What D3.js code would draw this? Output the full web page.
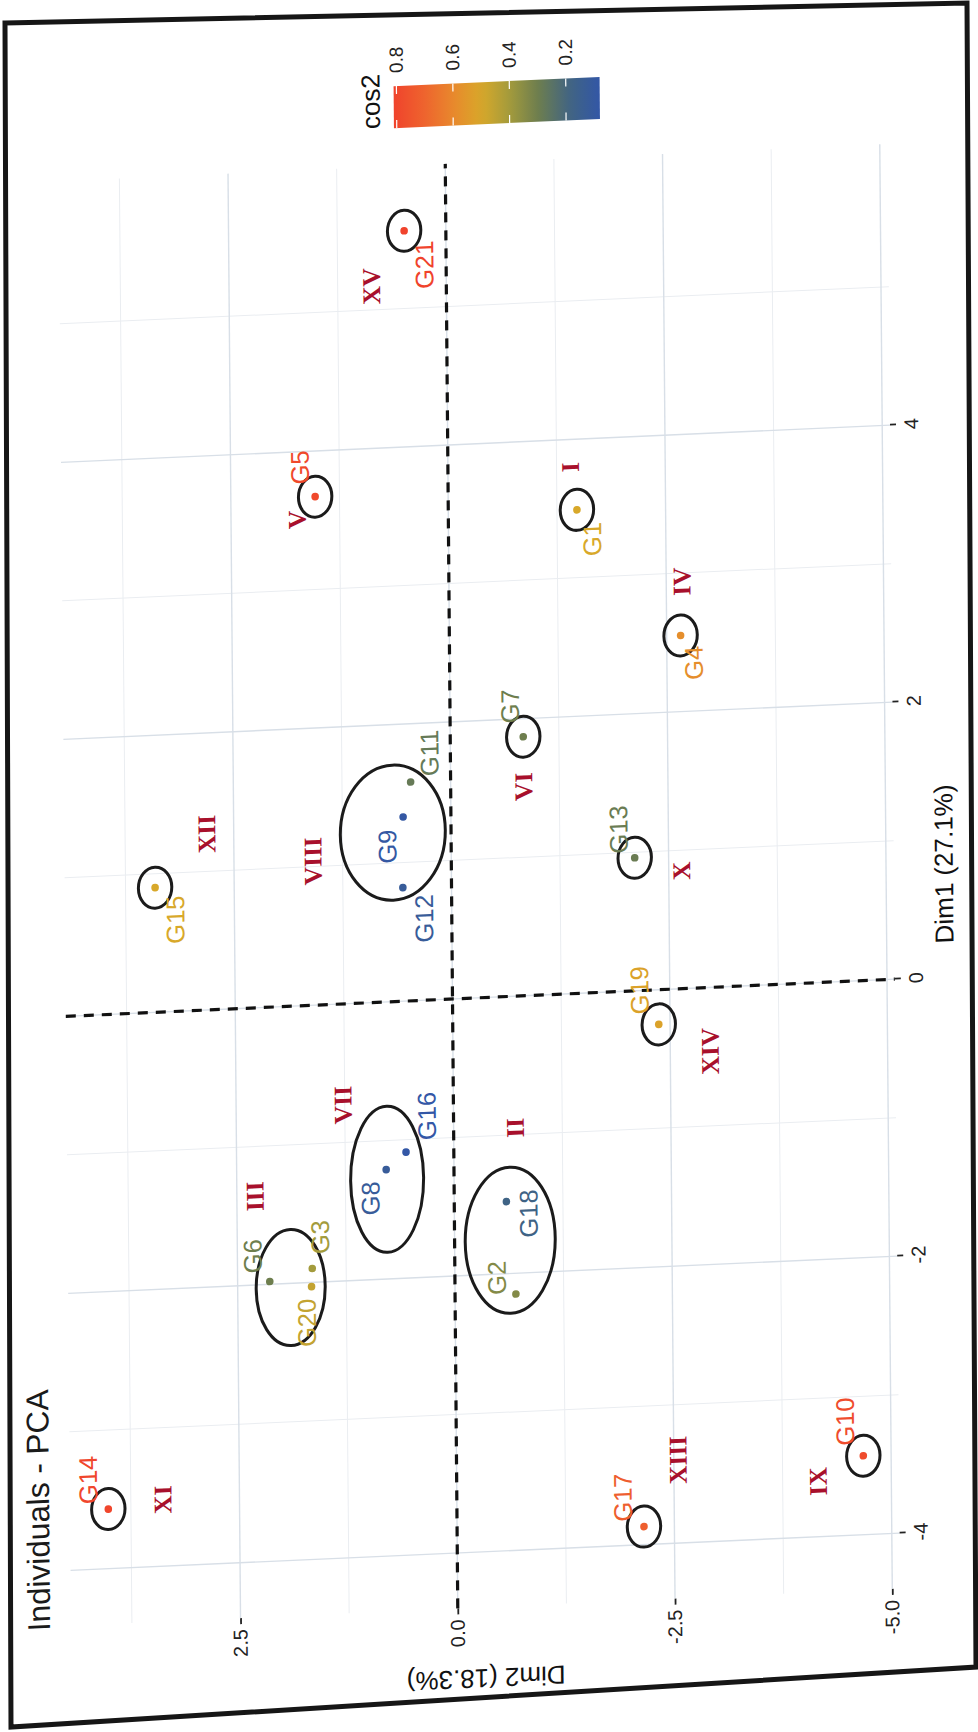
<!DOCTYPE html>
<html>
<head>
<meta charset="utf-8">
<script src="https://cdn.jsdelivr.net/npm/d3@7"></script>
<style>
  html, body { margin: 0; padding: 0; background: #ffffff; }
  svg { display: block; }
  text { font-family: "Liberation Sans", Arial, sans-serif; }
  text.roman { font-family: "Liberation Serif", "Times New Roman", serif; font-weight: bold; }
</style>
</head>
<body>
<svg id="chart" width="978" height="1732"></svg>
<script>
// ---- individuals: PCA coordinates and quality of representation ----
const individuals = ["G1","G2","G3","G4","G5","G6","G7","G8","G9","G10","G11",
                     "G12","G13","G14","G15","G16","G17","G18","G19","G20","G21"];
const dim1 = [3.49, -2.15, -1.90, 2.55, 3.67, -1.98, 1.87, -1.21, 1.33, -3.43, 1.58,
              0.82, 0.96, -3.57, 0.90, -1.09, -3.87, -1.48, -0.25, -2.03, 5.56];
const dim2 = [-1.48, -0.70, 1.64, -2.66, 1.53, 2.13, -0.84, 0.78, 0.55, -4.68, 0.46,
              0.56, -2.11, 4.01, 3.41, 0.55, -2.15, -0.60, -2.37, 1.65, 0.48];
const cos2 = [0.50, 0.34, 0.40, 0.58, 0.79, 0.30, 0.30, 0.12, 0.09, 0.78, 0.28,
              0.12, 0.29, 0.80, 0.50, 0.08, 0.72, 0.18, 0.52, 0.46, 0.81];

// ---- groups (roman numerals) ----
const groupNames   = ["I","II","III","IV","V","VI","VII","VIII","IX","X","XI","XII","XIII","XIV","XV"];
const groupMembers = [["G1"],["G2","G18"],["G3","G6","G20"],["G4"],["G5"],["G7"],["G8","G16"],
                      ["G9","G11","G12"],["G10"],["G13"],["G14"],["G15"],["G17"],["G19"],["G21"]];
const groupDim1 = [3.80, -0.95, -1.36, 2.94, 3.51, 1.51, -0.73, 1.04, -3.60, 0.85, -3.52, 1.27, -3.40, -0.46, 5.17];
const groupDim2 = [-1.41, -0.71, 2.29, -2.68, 1.74, -0.84, 1.27, 1.59, -4.16, -2.65, 3.38, 2.81, -2.55, -2.96, 0.86];
// ring centres for the multi-member groups (Dim1, Dim2)
const ringCentre = { "II": [-1.76, -0.64], "III": [-2.03, 1.89], "VII": [-1.28, 0.77], "VIII": [1.22, 0.67] };

// ---- axes ----
const dim1Limits = [-4.40, 6.03];
const dim2Limits = [-5.09, 4.45];
const dim1Ticks = [-4, -2, 0, 2, 4];
const dim1TickLabels = ["-4", "-2", "0", "2", "4"];
const dim1Minor = [-3, -1, 1, 3, 5];
const dim2Ticks = [-5, -2.5, 0, 2.5];
const dim2TickLabels = ["-5.0", "-2.5", "0.0", "2.5"];
const dim2Minor = [-3.75, -1.25, 1.25, 3.75];
const cos2Ticks = [0.2, 0.4, 0.6, 0.8];
const cos2TickLabels = ["0.2", "0.4", "0.6", "0.8"];

// ---- colour ramp for cos2 ----
const cos2Stops   = [0.08, 0.18, 0.30, 0.40, 0.50, 0.60, 0.70, 0.81];
const cos2Colours = ["#3357a6", "#3f6385", "#6e7e4e", "#a39b3c", "#d8a82a", "#e8882c", "#ee642e", "#f0432c"];

// ---- layout (chart frame, before the page tilt) ----
const pxPerDim1 = 138.5, pxPerDim2 = 86.9;
const P0 = 0, Q0 = 0;
const P1 = P0 + (dim1Limits[1] - dim1Limits[0]) * pxPerDim1;
const Q1 = Q0 + (dim2Limits[1] - dim2Limits[0]) * pxPerDim2;
const labelNudge = {
  G1: [-30, 15], G2: [17, -19], G3: [31, 8], G4: [-28, 13], G5: [30, -15], G6: [26, -17],
  G7: [31, -13], G8: [-28, -16], G9: [-29, -16], G10: [35, -18], G11: [28, 19], G12: [-32, 21],
  G13: [29, -16], G14: [30, -20], G15: [-33, 20], G16: [35, 21], G17: [30, -21], G18: [-13, 22],
  G19: [35, -19], G20: [-36, -5], G21: [-35, 20]
};
const ringRadius = { single: [20.5, 16.7], "II": [73, 45], "III": [58, 34.5], "VII": [73, 36.5], "VIII": [67.5, 52.5] };
// page tilt: chart frame -> page (rotated a quarter turn with slight shear)
const tilt = { a: -0.00866, b: -1, c: 1, d: -0.0449 };
const originOnPage = [452.5, 999];
const pageCorners = [[5, 23], [967, 3], [976, 1667], [11, 1727]];

// ---- scales ----
const x = d3.scaleLinear().domain(dim1Limits).range([P0, P1]);
const y = d3.scaleLinear().domain(dim2Limits).range([Q1, Q0]);
const colour = d3.scaleLinear().domain(cos2Stops).range(cos2Colours).interpolate(d3.interpolateRgb);

const ox = x(0), oy = y(0);
const e = originOnPage[0] - (tilt.a * ox + tilt.c * oy);
const f = originOnPage[1] - (tilt.b * ox + tilt.d * oy);

const svg = d3.select("#chart");
const g = svg.append("g")
  .attr("transform", `matrix(${tilt.a},${tilt.b},${tilt.c},${tilt.d},${e},${f})`);

// ---- grid ----
const grid = g.append("g");
grid.selectAll("line.minor1").data(dim1Minor).join("line")
  .attr("x1", d => x(d)).attr("x2", d => x(d)).attr("y1", Q0).attr("y2", Q1)
  .attr("stroke", "#eaedf1").attr("stroke-width", 1);
grid.selectAll("line.minor2").data(dim2Minor).join("line")
  .attr("x1", P0).attr("x2", P1).attr("y1", d => y(d)).attr("y2", d => y(d))
  .attr("stroke", "#eaedf1").attr("stroke-width", 1);
grid.selectAll("line.major1").data(dim1Ticks).join("line")
  .attr("x1", d => x(d)).attr("x2", d => x(d)).attr("y1", Q0).attr("y2", Q1)
  .attr("stroke", "#d8dfe7").attr("stroke-width", 1.4);
grid.selectAll("line.major2").data(dim2Ticks).join("line")
  .attr("x1", P0).attr("x2", P1).attr("y1", d => y(d)).attr("y2", d => y(d))
  .attr("stroke", "#d8dfe7").attr("stroke-width", 1.4);

// ---- reference lines at zero ----
g.append("line").attr("x1", x(0)).attr("x2", x(0)).attr("y1", Q0).attr("y2", Q1)
  .attr("stroke", "#111").attr("stroke-width", 3.2).attr("stroke-dasharray", "10 8");
g.append("line").attr("x1", P0).attr("x2", P1).attr("y1", y(0)).attr("y2", y(0))
  .attr("stroke", "#111").attr("stroke-width", 3.2).attr("stroke-dasharray", "10 8");

// ---- axes ----
const axDim1 = g.append("g").attr("transform", `translate(0,${Q1})`)
  .call(d3.axisBottom(x).tickValues(dim1Ticks).tickFormat((d, i) => dim1TickLabels[i])
        .tickSize(6).tickPadding(8));
const axDim2 = g.append("g").attr("transform", `translate(${P0},0)`)
  .call(d3.axisLeft(y).tickValues(dim2Ticks).tickFormat((d, i) => dim2TickLabels[i])
        .tickSize(6).tickPadding(5));
[axDim1, axDim2].forEach(ax => {
  ax.select(".domain").remove();
  ax.selectAll(".tick line").attr("stroke", "#222").attr("stroke-width", 1.8);
  ax.selectAll(".tick text").attr("fill", "#222").attr("font-size", 20)
    .style("font-family", "'Liberation Sans', Arial, sans-serif");
});

// ---- axis titles and plot title ----
g.append("text").attr("x", (P0 + P1) / 2).attr("y", Q1 + 59)
  .attr("text-anchor", "middle").attr("font-size", 26).attr("fill", "#111")
  .text("Dim1 (27.1%)");
g.append("text").attr("transform", `translate(${P0 - 62},${(Q0 + Q1) / 2}) rotate(-90)`)
  .attr("text-anchor", "middle").attr("font-size", 26).attr("fill", "#111")
  .text("Dim2 (18.3%)");
g.append("text").attr("x", P0 - 4).attr("y", Q0 - 21)
  .attr("font-size", 31.5).attr("fill", "#1a1a1a")
  .text("Individuals - PCA");

// ---- rings around groups ----
const idx = Object.fromEntries(individuals.map((n, i) => [n, i]));
const rings = groupNames.map((name, i) => {
  const m = groupMembers[i];
  let c;
  if (ringCentre[name]) c = [x(ringCentre[name][0]), y(ringCentre[name][1])];
  else c = [x(dim1[idx[m[0]]]), y(dim2[idx[m[0]]])];
  const r = ringRadius[name] || ringRadius.single;
  return { name, cx: c[0], cy: c[1], rx: r[0], ry: r[1] };
});
g.append("g").selectAll("ellipse").data(rings).join("ellipse")
  .attr("cx", d => d.cx).attr("cy", d => d.cy).attr("rx", d => d.rx).attr("ry", d => d.ry)
  .attr("fill", "none").attr("stroke", "#1b1b1b").attr("stroke-width", 3);

// ---- points and labels ----
const pts = individuals.map((n, i) => ({ n, d1: dim1[i], d2: dim2[i], c: cos2[i] }));
g.append("g").selectAll("circle").data(pts).join("circle")
  .attr("cx", d => x(d.d1)).attr("cy", d => y(d.d2)).attr("r", 3.8)
  .attr("fill", d => colour(d.c));
g.append("g").selectAll("text").data(pts).join("text")
  .attr("x", d => x(d.d1) + labelNudge[d.n][0])
  .attr("y", d => y(d.d2) + labelNudge[d.n][1])
  .attr("text-anchor", "middle").attr("dominant-baseline", "central")
  .attr("font-size", 25.5).attr("fill", d => colour(d.c))
  .text(d => d.n);

// ---- roman numeral group labels ----
g.append("g").selectAll("text").data(groupNames).join("text")
  .attr("class", "roman")
  .attr("x", (d, i) => x(groupDim1[i])).attr("y", (d, i) => y(groupDim2[i]))
  .attr("text-anchor", "middle").attr("dominant-baseline", "central")
  .attr("font-size", 25.5).attr("fill", "#a8102c")
  .text(d => d);

// ---- cos2 colour bar legend ----
const barLeft = P1 + 38, barWidth = 42;
const cScale = d3.scaleLinear().domain([d3.min(cos2), d3.max(cos2)]).range([oy + 155, oy - 51]);
const defs = svg.append("defs");
const grad = defs.append("linearGradient").attr("id", "cos2grad")
  .attr("gradientUnits", "userSpaceOnUse")
  .attr("x1", 0).attr("x2", 0).attr("y1", cScale.range()[0]).attr("y2", cScale.range()[1]);
const lo = cScale.domain()[0], hi = cScale.domain()[1];
d3.range(0, 1.0001, 0.05).forEach(t => {
  const v = lo + t * (hi - lo);
  grad.append("stop").attr("offset", t).attr("stop-color", colour(v));
});
const leg = g.append("g");
leg.append("rect").attr("x", barLeft).attr("width", barWidth)
  .attr("y", cScale(hi)).attr("height", cScale(lo) - cScale(hi))
  .attr("fill", "url(#cos2grad)");
leg.selectAll("line.tl").data(cos2Ticks).join("line")
  .attr("x1", barLeft).attr("x2", barLeft + 8).attr("y1", d => cScale(d)).attr("y2", d => cScale(d))
  .attr("stroke", "#fff").attr("stroke-width", 1.2);
leg.selectAll("line.tr").data(cos2Ticks).join("line")
  .attr("x1", barLeft + barWidth - 8).attr("x2", barLeft + barWidth).attr("y1", d => cScale(d)).attr("y2", d => cScale(d))
  .attr("stroke", "#fff").attr("stroke-width", 1.2);
leg.selectAll("text.lab").data(cos2Ticks).join("text")
  .attr("x", barLeft + barWidth + 13).attr("y", d => cScale(d))
  .attr("dominant-baseline", "central").attr("font-size", 19).attr("fill", "#222")
  .text((d, i) => cos2TickLabels[i]);
leg.append("text").attr("x", barLeft).attr("y", cScale(hi) - 14)
  .attr("font-size", 26).attr("fill", "#111").text("cos2");

// ---- page edge ----
svg.append("path")
  .attr("d", d3.line()(pageCorners) + "Z")
  .attr("fill", "none").attr("stroke", "#161616").attr("stroke-width", 5);
</script>
</body>
</html>
